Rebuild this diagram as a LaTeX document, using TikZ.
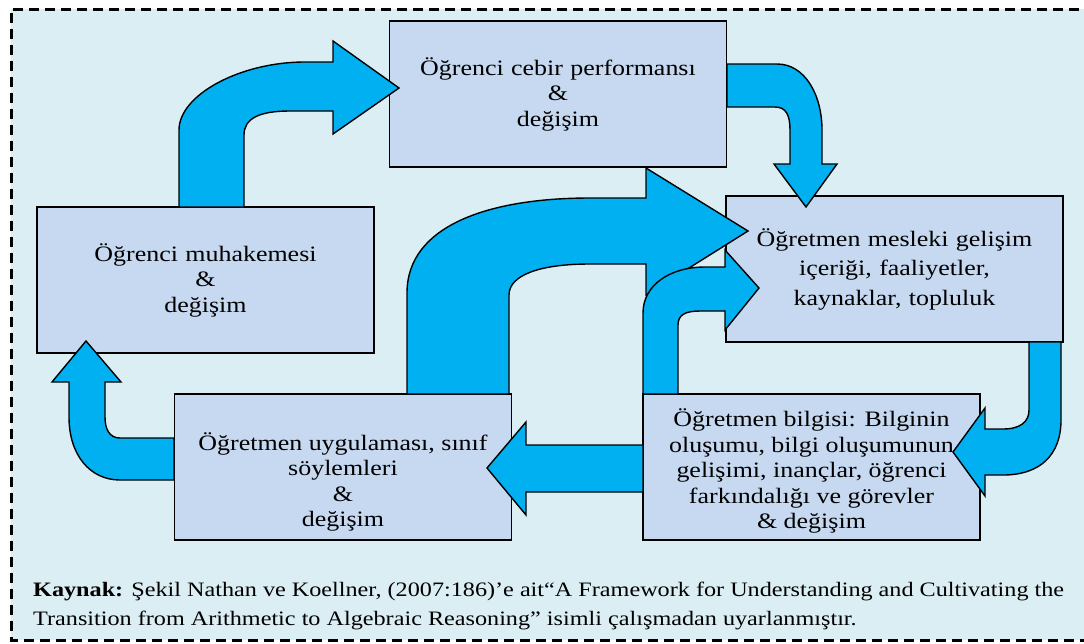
\documentclass[tikz,border=0pt]{standalone}
\usepackage{fontspec}
\setmainfont{Liberation Serif}[FakeStretch=1.18]
\definecolor{panelbg}{HTML}{DBEEF4}
\definecolor{boxfill}{HTML}{C6D9F0}
\definecolor{arrowfill}{HTML}{00B0F0}
\begin{document}
\begin{tikzpicture}[x=1pt,y=-1pt,
  stagebox/.style={draw=black,line width=1.6pt,fill=boxfill,minimum width=337pt,minimum height=146pt,
    text width=330pt,align=center,inner sep=0pt,font=\fontsize{22}{25.5}\selectfont},
  stagetext/.style={align=center,inner sep=0pt,font=\fontsize{22}{25.5}\selectfont},
  blockarrow/.style={draw=black,line width=1.4pt,fill=arrowfill,line join=miter}]
\useasboundingbox (0,0) rectangle (1084,643);
% dashed frame with tinted panel
\fill[panelbg] (11,9) rectangle (1095,640);
\draw[line width=3pt,dash pattern=on 10pt off 6pt] (1095,9) -- (11,9) -- (11,640) -- (1095,640);

% stages
\node[stagebox] (cebir) at (558,94) {Öğrenci cebir performansı\\ \&\\ değişim};
\node[stagebox] (muh) at (205.5,280) {Öğrenci muhakemesi\\ \&\\ değişim};
\node[stagebox,font=\fontsize{22}{29.5}\selectfont] (mesleki) at (894.5,269) {Öğretmen mesleki gelişim\\ içeriği, faaliyetler,\\ kaynaklar, topluluk};
\node[stagebox] (bilgi) at (811.5,467) {};
\node[stagetext] (bilgitext) at (811.5,471) {Öğretmen bilgisi: Bilginin\\ oluşumu, bilgi oluşumunun\\ gelişimi, inançlar, öğrenci\\ farkındalığı ve görevler\\ \& değişim};
\node[stagebox] (uyg) at (343,467) {};
\node[stagetext] (uygtext) at (343,482) {Öğretmen uygulaması, sınıf\\ söylemleri\\ \&\\ değişim};

% reasoning -> algebra performance
\draw[blockarrow] (179,207) -- (179,130) .. controls (179,95) and (240,62) .. (305,62) -- (333,62) -- (333,41)
  -- (399,88) -- (333,134) -- (333,111) -- (290,111) .. controls (260,111) and (244,118) .. (244,135)
  -- (244,207) -- cycle;
% algebra performance -> professional development
\draw[blockarrow] (727,64) -- (777,64) .. controls (805,64) and (822,95) .. (822,130) -- (822,164) -- (837,164)
  -- (806,207) -- (774,164) -- (790,164) -- (790,130) .. controls (790,115) and (786,107) .. (775,107)
  -- (727,107) -- cycle;
% practice -> professional development
\draw[blockarrow] (407,394) -- (407,293) .. controls (407,225) and (490,198) .. (590,198) -- (646,198) -- (646,168)
  -- (748,231) -- (646,295) -- (646,264) -- (590,264) .. controls (540,264) and (509,275) .. (509,295)
  -- (509,394) -- cycle;
% knowledge -> professional development
\draw[blockarrow] (643,394) -- (643,313) .. controls (643,285) and (670,267) .. (705,267) -- (725,267) -- (725,250)
  -- (759,288) -- (725,330) -- (725,311) -- (700,311) .. controls (685,311) and (678,315) .. (678,325)
  -- (678,394) -- cycle;
% professional development -> knowledge
\draw[blockarrow] (1029,342) -- (1029,410) .. controls (1029,422) and (1020,429) .. (1003,429) -- (985,429)
  -- (985,408) -- (953,452) -- (985,496) -- (985,475) -- (1003,475) .. controls (1040,475) and (1061,455) .. (1061,420)
  -- (1061,342) -- cycle;
% knowledge -> practice
\draw[blockarrow] (643,445) -- (526,445) -- (526,422) -- (487,468) -- (526,515) -- (526,492) -- (643,492) -- cycle;
% practice -> reasoning
\draw[blockarrow] (174,480) -- (120,480) .. controls (90,480) and (69,455) .. (69,417) -- (69,382) -- (52,382)
  -- (86,341) -- (121,382) -- (105,382) -- (105,417) .. controls (105,430) and (110,438) .. (120,438)
  -- (174,438) -- cycle;

% source note (base anchor sits on the last line)
\node[anchor=base west,align=left,inner sep=0pt,font=\fontsize{20.5}{29}\selectfont] (kaynak) at (33,625)
  {\textbf{Kaynak:} Şekil Nathan ve Koellner, (2007:186)’e ait“A Framework for Understanding and Cultivating the\\
   Transition from Arithmetic to Algebraic Reasoning” isimli çalışmadan uyarlanmıştır.};
\end{tikzpicture}
\end{document}
